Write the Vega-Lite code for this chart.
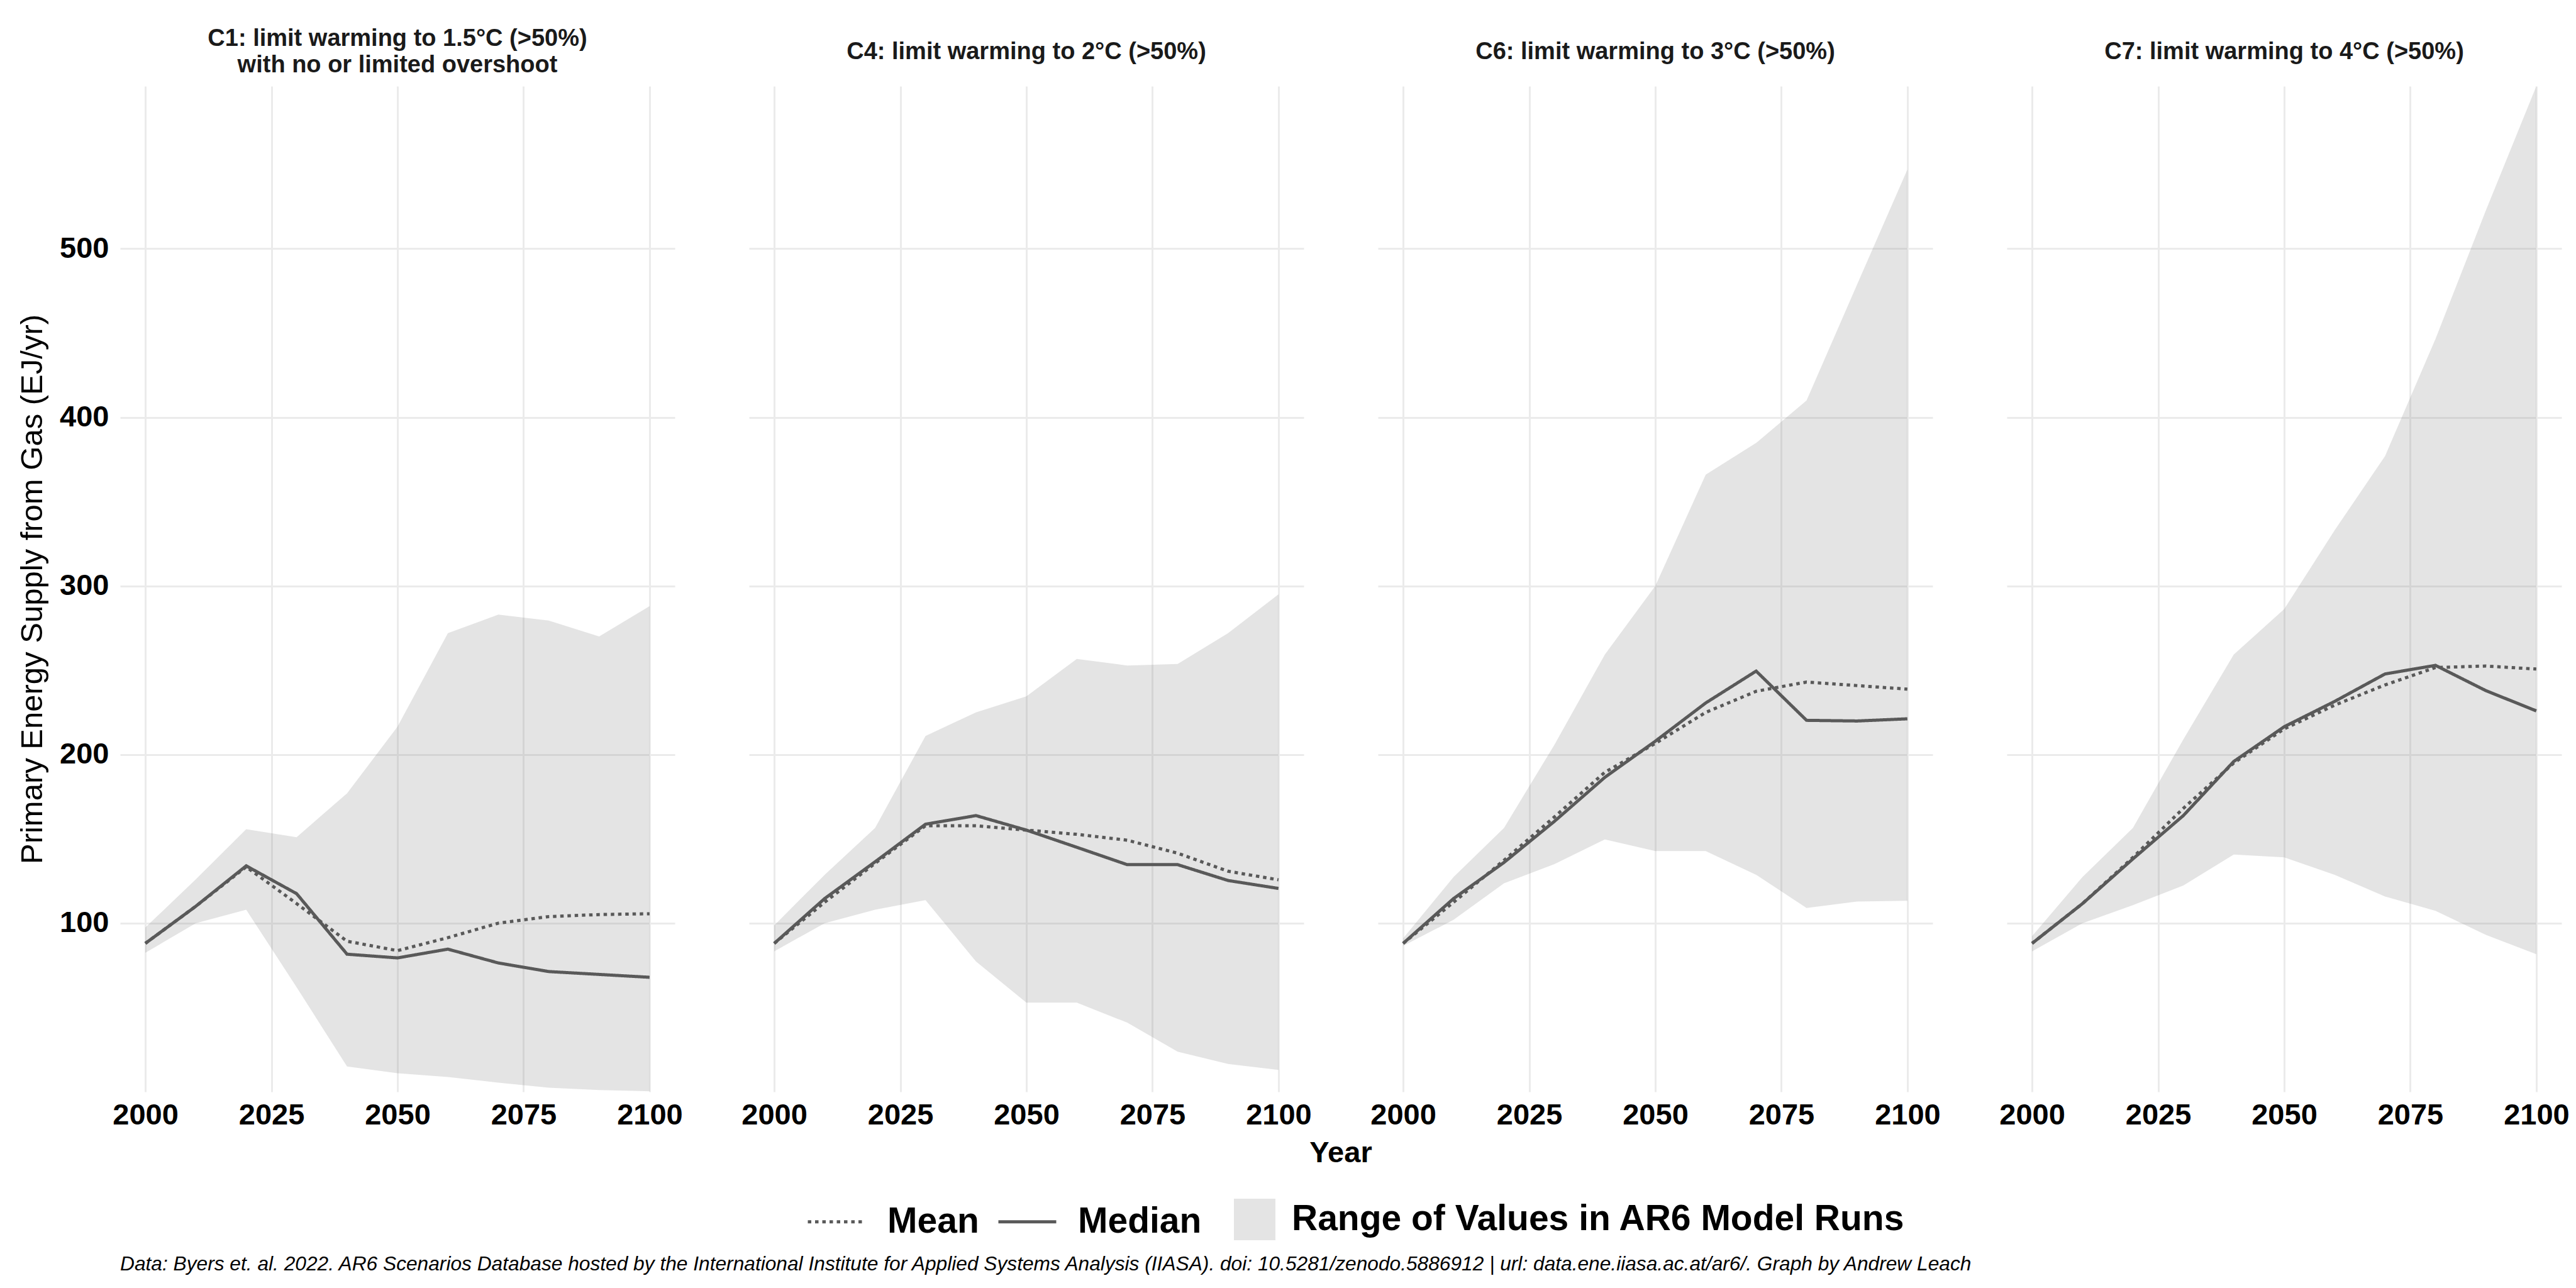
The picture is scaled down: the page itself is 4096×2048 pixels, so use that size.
{
  "$schema": "https://vega.github.io/schema/vega-lite/v6.json",
  "background": "white",
  "padding": {"left": 27, "top": 43, "right": 5, "bottom": 5},
  "data": {"values": [
    {"c": "C1: limit warming to 1.5°C (>50%)\nwith no or limited overshoot", "year": 2000, "lo": 82.4, "hi": 97.4, "Median": 88, "Mean": 88},
    {"c": "C1: limit warming to 1.5°C (>50%)\nwith no or limited overshoot", "year": 2010, "lo": 100, "hi": 126, "Median": 110, "Mean": 110},
    {"c": "C1: limit warming to 1.5°C (>50%)\nwith no or limited overshoot", "year": 2020, "lo": 108, "hi": 155.7, "Median": 134, "Mean": 133.4},
    {"c": "C1: limit warming to 1.5°C (>50%)\nwith no or limited overshoot", "year": 2030, "lo": 62, "hi": 151, "Median": 117.5, "Mean": 111.6},
    {"c": "C1: limit warming to 1.5°C (>50%)\nwith no or limited overshoot", "year": 2040, "lo": 15, "hi": 177, "Median": 81.6, "Mean": 89.3},
    {"c": "C1: limit warming to 1.5°C (>50%)\nwith no or limited overshoot", "year": 2050, "lo": 11, "hi": 216.5, "Median": 79.4, "Mean": 83.7},
    {"c": "C1: limit warming to 1.5°C (>50%)\nwith no or limited overshoot", "year": 2060, "lo": 8.8, "hi": 272, "Median": 84.6, "Mean": 91.4},
    {"c": "C1: limit warming to 1.5°C (>50%)\nwith no or limited overshoot", "year": 2070, "lo": 5.4, "hi": 283, "Median": 76.4, "Mean": 100},
    {"c": "C1: limit warming to 1.5°C (>50%)\nwith no or limited overshoot", "year": 2080, "lo": 2.4, "hi": 279.5, "Median": 71.3, "Mean": 103.9},
    {"c": "C1: limit warming to 1.5°C (>50%)\nwith no or limited overshoot", "year": 2090, "lo": 1, "hi": 270, "Median": 69.6, "Mean": 105.1},
    {"c": "C1: limit warming to 1.5°C (>50%)\nwith no or limited overshoot", "year": 2100, "lo": 0.3, "hi": 288, "Median": 67.9, "Mean": 105.6},
    {"c": "C4: limit warming to 2°C (>50%)", "year": 2000, "lo": 83.3, "hi": 98.7, "Median": 88, "Mean": 88},
    {"c": "C4: limit warming to 2°C (>50%)", "year": 2010, "lo": 100, "hi": 128.7, "Median": 114.6, "Mean": 112.4},
    {"c": "C4: limit warming to 2°C (>50%)", "year": 2020, "lo": 108, "hi": 156.5, "Median": 136.4, "Mean": 135.5},
    {"c": "C4: limit warming to 2°C (>50%)", "year": 2030, "lo": 113.7, "hi": 211, "Median": 158.7, "Mean": 157.8},
    {"c": "C4: limit warming to 2°C (>50%)", "year": 2040, "lo": 77.3, "hi": 225, "Median": 163.8, "Mean": 157.8},
    {"c": "C4: limit warming to 2°C (>50%)", "year": 2050, "lo": 52.9, "hi": 234.5, "Median": 155.2, "Mean": 155.2},
    {"c": "C4: limit warming to 2°C (>50%)", "year": 2060, "lo": 52.9, "hi": 256.7, "Median": 145, "Mean": 152.7},
    {"c": "C4: limit warming to 2°C (>50%)", "year": 2070, "lo": 41, "hi": 252.8, "Median": 134.7, "Mean": 149.2},
    {"c": "C4: limit warming to 2°C (>50%)", "year": 2080, "lo": 23.8, "hi": 253.7, "Median": 134.7, "Mean": 141.5},
    {"c": "C4: limit warming to 2°C (>50%)", "year": 2090, "lo": 16.5, "hi": 272, "Median": 125.3, "Mean": 130.8},
    {"c": "C4: limit warming to 2°C (>50%)", "year": 2100, "lo": 13, "hi": 295, "Median": 120.6, "Mean": 125.7},
    {"c": "C6: limit warming to 3°C (>50%)", "year": 2000, "lo": 86.5, "hi": 91, "Median": 88, "Mean": 88},
    {"c": "C6: limit warming to 3°C (>50%)", "year": 2010, "lo": 102, "hi": 127.4, "Median": 114.6, "Mean": 112.4},
    {"c": "C6: limit warming to 3°C (>50%)", "year": 2020, "lo": 123.6, "hi": 156.5, "Median": 136, "Mean": 137.3},
    {"c": "C6: limit warming to 3°C (>50%)", "year": 2030, "lo": 135, "hi": 205.8, "Median": 160.4, "Mean": 163},
    {"c": "C6: limit warming to 3°C (>50%)", "year": 2040, "lo": 149.7, "hi": 259.3, "Median": 186.5, "Mean": 189.5},
    {"c": "C6: limit warming to 3°C (>50%)", "year": 2050, "lo": 142.8, "hi": 300, "Median": 207.9, "Mean": 206.6},
    {"c": "C6: limit warming to 3°C (>50%)", "year": 2060, "lo": 142.8, "hi": 366, "Median": 230.6, "Mean": 225},
    {"c": "C6: limit warming to 3°C (>50%)", "year": 2070, "lo": 128.7, "hi": 384.8, "Median": 249.5, "Mean": 237.5},
    {"c": "C6: limit warming to 3°C (>50%)", "year": 2080, "lo": 109, "hi": 410, "Median": 220.3, "Mean": 243},
    {"c": "C6: limit warming to 3°C (>50%)", "year": 2090, "lo": 112.8, "hi": 478.6, "Median": 219.9, "Mean": 240.9},
    {"c": "C6: limit warming to 3°C (>50%)", "year": 2100, "lo": 113.3, "hi": 547, "Median": 221.2, "Mean": 238.8},
    {"c": "C7: limit warming to 4°C (>50%)", "year": 2000, "lo": 83.3, "hi": 92.3, "Median": 88, "Mean": 88},
    {"c": "C7: limit warming to 4°C (>50%)", "year": 2010, "lo": 100, "hi": 127.4, "Median": 111.6, "Mean": 111.6},
    {"c": "C7: limit warming to 4°C (>50%)", "year": 2020, "lo": 110.7, "hi": 156.5, "Median": 138.1, "Mean": 139},
    {"c": "C7: limit warming to 4°C (>50%)", "year": 2030, "lo": 122.3, "hi": 209, "Median": 163.8, "Mean": 168.1},
    {"c": "C7: limit warming to 4°C (>50%)", "year": 2040, "lo": 140.7, "hi": 259.3, "Median": 195.9, "Mean": 195},
    {"c": "C7: limit warming to 4°C (>50%)", "year": 2050, "lo": 139, "hi": 286.3, "Median": 216.5, "Mean": 215.2},
    {"c": "C7: limit warming to 4°C (>50%)", "year": 2060, "lo": 128.7, "hi": 333, "Median": 231.5, "Mean": 229.3},
    {"c": "C7: limit warming to 4°C (>50%)", "year": 2070, "lo": 115.8, "hi": 377, "Median": 247.8, "Mean": 241.3},
    {"c": "C7: limit warming to 4°C (>50%)", "year": 2080, "lo": 107.3, "hi": 446.5, "Median": 252.9, "Mean": 251.6},
    {"c": "C7: limit warming to 4°C (>50%)", "year": 2090, "lo": 93.1, "hi": 522.7, "Median": 237.9, "Mean": 252.5},
    {"c": "C7: limit warming to 4°C (>50%)", "year": 2100, "lo": 81.6, "hi": 596.4, "Median": 225.9, "Mean": 250.7}
  ]},
  "facet": {
    "column": {
      "field": "c",
      "type": "nominal",
      "title": "Year",
      "header": {
        "labelExpr": "indexof(datum.value, '\\n') >= 0 ? [split(datum.value, '\\n')[0], '\u200b', split(datum.value, '\\n')[1]] : [datum.value, '\u200b']",
        "labelFontSize": 38,
        "labelFontWeight": "bold",
        "labelColor": "#1a1a1a",
        "labelOrient": "top",
        "labelBaseline": "middle",
        "labelLineHeight": 21,
        "labelPadding": -5,
        "titleOrient": "bottom",
        "titleFontSize": 47,
        "titleFontWeight": "bold",
        "titleColor": "black",
        "titlePadding": 5
      }
    }
  },
  "spacing": 118,
  "spec": {
    "width": 882,
    "height": 1599,
    "layer": [
      {
        "mark": {"type": "area", "opacity": 0.2},
        "encoding": {
          "x": {"field": "year", "type": "quantitative", "title": null,
                "scale": {"domain": [1995, 2105], "nice": false, "zero": false},
                "axis": {"values": [2000, 2025, 2050, 2075, 2100], "format": "d"}},
          "y": {"field": "lo", "type": "quantitative", "title": "Primary Energy Supply from Gas (EJ/yr)",
                "scale": {"domain": [0, 596.4], "nice": false, "zero": false},
                "axis": {"values": [100, 200, 300, 400, 500]}},
          "y2": {"field": "hi"},
          "fill": {"datum": "Range of Values in AR6 Model Runs", "type": "nominal",
                   "scale": {"range": ["#7a7a7a"]},
                   "legend": {"title": null, "orient": "none", "legendX": 1771, "legendY": 1769,
                              "symbolType": "square", "symbolSize": 4356, "symbolOpacity": 0.2,
                              "symbolStrokeWidth": 0, "labelOffset": 26}}
        }
      },
      {
        "transform": [{"fold": ["Mean", "Median"], "as": ["stat", "value"]}],
        "mark": {"type": "line", "color": "#595959", "strokeWidth": 5, "strokeCap": "butt"},
        "encoding": {
          "x": {"field": "year", "type": "quantitative", "title": null},
          "y": {"field": "value", "type": "quantitative", "title": "Primary Energy Supply from Gas (EJ/yr)"},
          "strokeDash": {"field": "stat", "type": "nominal",
                         "scale": {"domain": ["Mean", "Median"], "range": [[5.5, 6], [1, 0]]},
                         "legend": {"title": null, "orient": "none", "legendX": 1091, "legendY": 1757,
                                    "direction": "horizontal", "symbolType": "stroke", "symbolSize": 8464,
                                    "symbolStrokeWidth": 5, "labelOffset": 32, "columnPadding": 20,
                                    "encode": {"symbols": {"update": {"stroke": {"value": "black"}}}}}}
        }
      }
    ]
  },
  "title": {
    "text": "Data: Byers et. al. 2022. AR6 Scenarios Database hosted by the International Institute for Applied Systems Analysis (IIASA). doi: 10.5281/zenodo.5886912 | url: data.ene.iiasa.ac.at/ar6/. Graph by Andrew Leach",
    "orient": "bottom",
    "anchor": "start",
    "frame": "group",
    "offset": 23,
    "fontSize": 31.7,
    "fontStyle": "italic",
    "fontWeight": "normal",
    "color": "black"
  },
  "config": {
    "font": "Liberation Sans",
    "view": {"stroke": null},
    "axis": {
      "domain": false,
      "ticks": false,
      "gridColor": "#ebebeb",
      "gridWidth": 3,
      "labelFontSize": 47,
      "labelFontWeight": "bold",
      "labelColor": "black",
      "titleColor": "black"
    },
    "axisX": {"labelPadding": 14},
    "axisY": {"labelPadding": 18, "titlePadding": 18, "titleFontSize": 49, "titleFontWeight": "normal"},
    "legend": {
      "labelFontSize": 57,
      "labelFontWeight": "bold",
      "labelColor": "black",
      "labelLimit": 2000
    }
  }
}
